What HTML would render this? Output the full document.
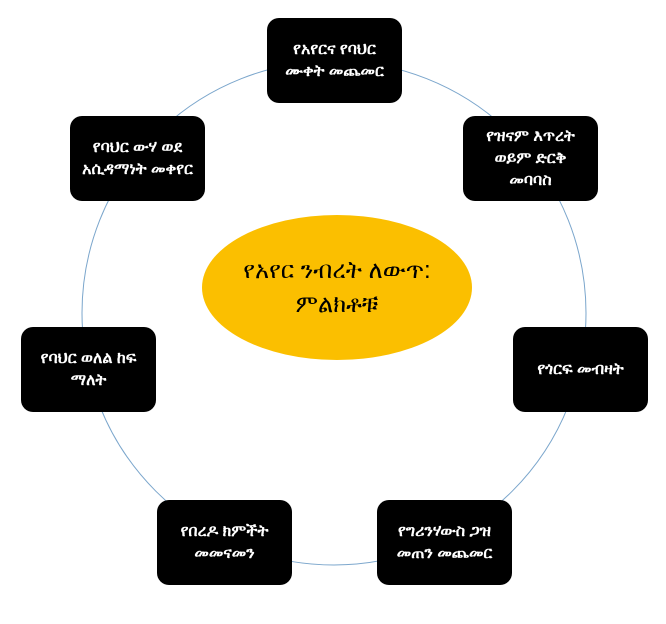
<!DOCTYPE html>
<html><head><meta charset="utf-8">
<style>
html,body{margin:0;padding:0;background:#fff;width:666px;height:624px;overflow:hidden}
body{position:relative;font-family:"Liberation Sans","DejaVu Sans","Noto Sans CJK SC",sans-serif}
.b{position:absolute;background:#000;color:#fff;border-radius:12px;display:flex;align-items:center;justify-content:center;text-align:center;font-size:16px;line-height:22px;width:135px;height:85px;box-sizing:border-box;padding:4px 6px;font-weight:600}
.e{position:absolute;left:202px;top:215px;width:270px;height:145px;border-radius:50%;background:#fbbf00;display:flex;align-items:center;justify-content:center;text-align:center;font-size:24px;line-height:34px;color:#000}
</style></head><body>
<svg width="666" height="624" style="position:absolute;left:0;top:0">
<circle cx="334" cy="313" r="252" fill="none" stroke="#7ba6cc" stroke-width="1"/>
</svg>
<div class="e">የአየር ንብረት ለውጥ:<br>ምልክቶቹ</div>
<div class="b" style="left:267px;top:18px">የአየርና የባህር<br>ሙቀት መጨመር</div>
<div class="b" style="left:463px;top:116px">የዝናም እጥረት<br>ወይም ድርቅ<br>መባባስ</div>
<div class="b" style="left:513px;top:327px">የጎርፍ መብዛት</div>
<div class="b" style="left:377px;top:500px">የግሪንሃውስ ጋዝ<br>መጠን መጨመር</div>
<div class="b" style="left:157px;top:500px">የበረዶ ክምችት<br>መመናመን</div>
<div class="b" style="left:21px;top:327px">የባህር ወለል ከፍ<br>ማለት</div>
<div class="b" style="left:70px;top:116px">የባህር ውሃ ወደ<br>አሲዳማነት መቀየር</div>
</body></html>
